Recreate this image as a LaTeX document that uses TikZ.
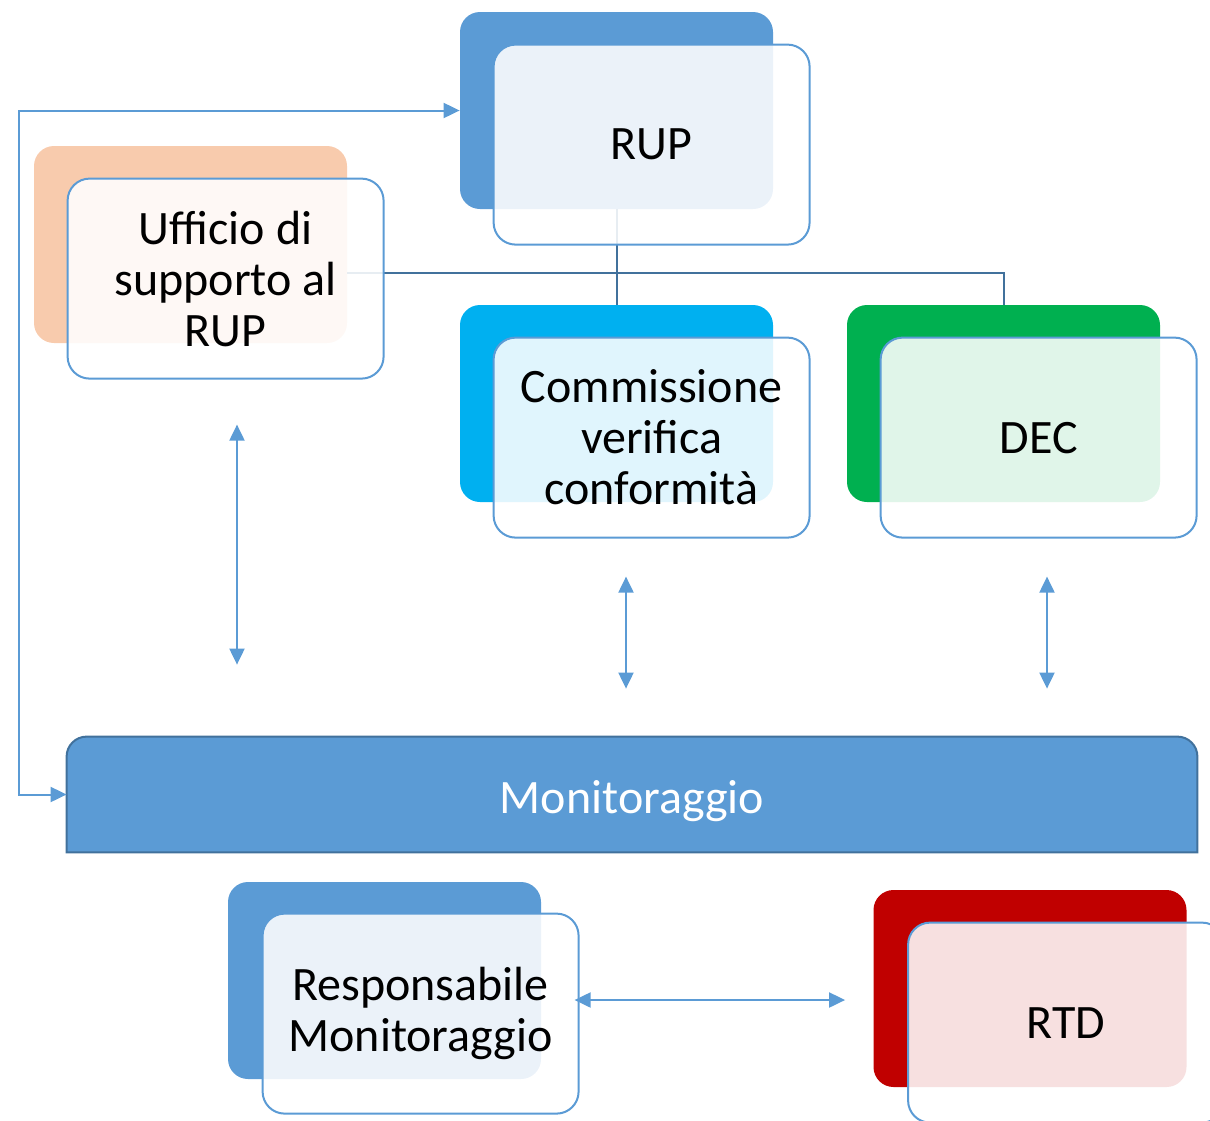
\documentclass[tikz,border=0pt]{standalone}
\usepackage{fontspec}
\setmainfont{Carlito}
\usetikzlibrary{positioning,arrows.meta,backgrounds}
\definecolor{boxblue}{HTML}{5B9BD5}
\definecolor{bardark}{HTML}{41719C}
\definecolor{peach}{HTML}{F8CBAD}
\definecolor{cyanbox}{HTML}{00B0F0}
\definecolor{greenbox}{HTML}{00B050}
\definecolor{redbox}{HTML}{C00000}

\begin{document}
\begin{tikzpicture}[x=0.5pt,y=-0.5pt,
  back/.style={rounded corners=10pt,minimum width=156.5pt,minimum height=98.5pt,inner sep=0pt},
  front/.style={draw=boxblue,line width=1pt,fill=white,fill opacity=0.88,text opacity=1,
    rounded corners=11pt,minimum width=158pt,minimum height=100pt,inner sep=0pt,
    align=center,font=\fontsize{24}{25.5}\selectfont},
  tree/.style={draw=bardark,line width=1pt},
  link/.style={draw=boxblue,line width=1pt,{Triangle[length=8pt,width=7.5pt]}-{Triangle[length=8pt,width=7.5pt]}}]
\clip (0,0) rectangle (1210,1120);
% back cards
\node[back,fill=boxblue] (rupb) at (616.5,110.5) {};
\node[back,fill=peach] (ufb) at (190.5,244.5) {};
\node[back,fill=cyanbox] (comb) at (616.5,403.5) {};
\node[back,fill=greenbox] (decb) at (1003.5,403.5) {};
\node[back,fill=boxblue] (respb) at (384.5,980.5) {};
\node[back,fill=redbox] (rtdb) at (1030,988.5) {};
% org lines
\coordinate (fork) at (616,273);
\draw[tree] (rupb.south) -- (comb.north);
\draw[tree] (ufb.east |- fork) -| (decb.north);
% front cards
\node[front] (rupf) [below right=16pt and 16.5pt of rupb.north west] {RUP};
\node[front] (uff) [below right=16pt and 16.5pt of ufb.north west] {Ufficio di\\supporto al\\RUP};
\node[front] (comf) [below right=16pt and 16.5pt of comb.north west] {Commissione\\verifica\\conformità};
\node[front] (decf) [below right=16pt and 16.5pt of decb.north west] {DEC};
\node[front] (respf) [below right=15.5pt and 17pt of respb.north west] {Responsabile\\Monitoraggio};
\node[front] (rtdf) [below right=16pt and 17pt of rtdb.north west] {RTD};
% bar
\node[text=white,font=\fontsize{24}{25.5}\selectfont,text height=18.5pt,text depth=0pt,
  minimum width=565pt,minimum height=57.5pt,inner sep=0pt] (mon) at (632,794.5) {Monitoraggio};
\begin{scope}[on background layer]
\filldraw[fill=boxblue,draw=bardark,line width=1pt] (mon.south west) [rounded corners=10pt] -- (mon.north west) -- (mon.north east) [sharp corners] -- (mon.south east) -- cycle;
\end{scope}
% arrows
\coordinate (lx) at (19,110.5);
\coordinate (ux) at (237,0);
\coordinate (cx) at (626,0);
\coordinate (dx) at (1047,0);
\coordinate (ry) at (0,1000);
\draw[link] (rupb.west) -- (lx) -- (lx |- mon.west) -- (mon.west);
\draw[link,shorten <=22.5pt,shorten >=36pt] (uff.south -| ux) -- (mon.north -| ux);
\draw[link,shorten <=19pt,shorten >=24pt] (comf.south -| cx) -- (mon.north -| cx);
\draw[link,shorten <=19pt,shorten >=24pt] (decf.south -| dx) -- (mon.north -| dx);
\draw[link,shorten <=-2.5pt,shorten >=14pt] (respf.east |- ry) -- (rtdb.west |- ry);
\end{tikzpicture}
\end{document}
